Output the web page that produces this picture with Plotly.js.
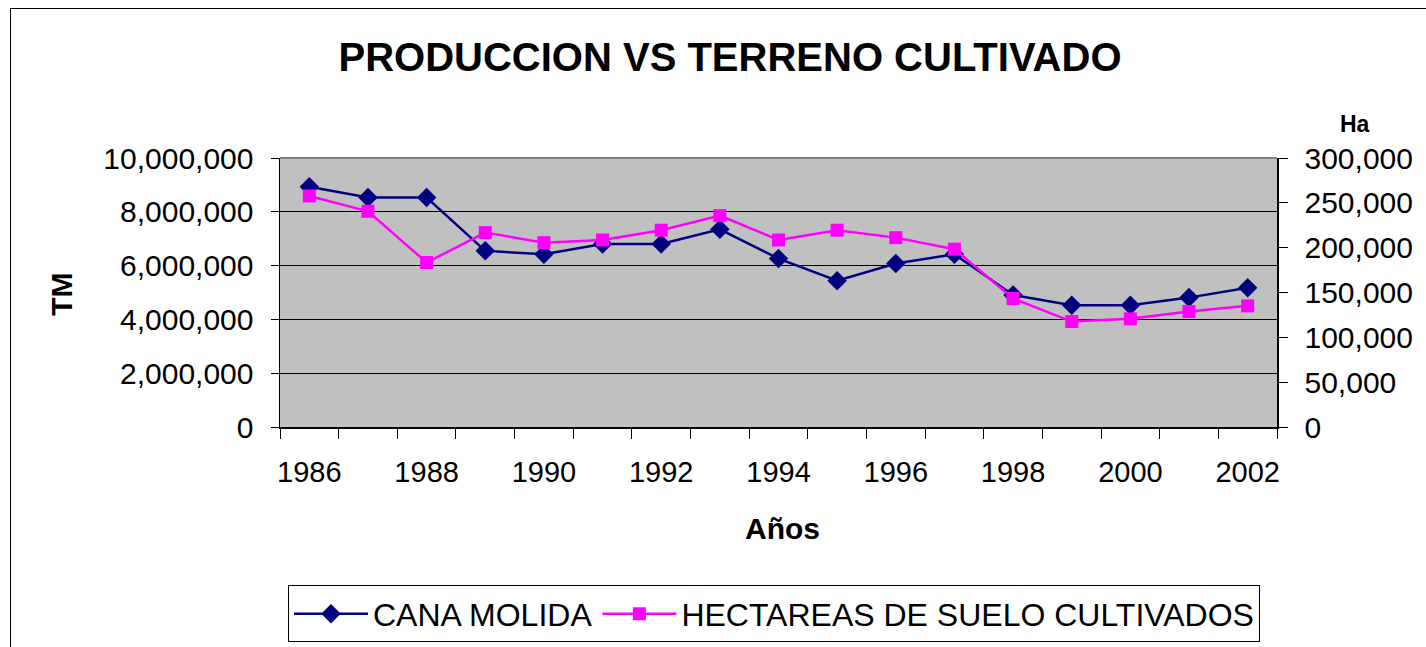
<!DOCTYPE html>
<html>
<head>
<meta charset="utf-8">
<script src="https://cdn.plot.ly/plotly-3.0.1.min.js"></script>
<style>
html, body { margin:0; padding:0; overflow:hidden; background:#fff; width:1426px; height:647px; }
#frame { position:absolute; left:10px; top:8px; width:2000px; height:2000px; border-left:1px solid #000; border-top:1px solid #000; }
#chart { position:absolute; left:0; top:0; width:1426px; height:647px; }
</style>
</head>
<body>
<div id="frame"></div>
<div id="chart"></div>
<script>
// Data
var years = [1986,1987,1988,1989,1990,1991,1992,1993,1994,1995,1996,1997,1998,1999,2000,2001,2002];
var canaMolida = [8930000,8530000,8530000,6550000,6420000,6800000,6800000,7350000,6260000,5440000,6080000,6420000,4910000,4530000,4530000,4810000,5180000];
var hectareas = [257700,240600,183400,216800,205600,208600,219500,235700,208600,219500,211200,198300,143300,117600,120600,128800,135100];
var xTickVals = [1986,1988,1990,1992,1994,1996,1998,2000,2002];
var xTickText = ['1986','1988','1990','1992','1994','1996','1998','2000','2002'];
var seriesNames = ['CANA MOLIDA','HECTAREAS DE SUELO CULTIVADOS'];

var FONT = 'Liberation Sans, Arial, sans-serif';

var traces = [
  {
    x: years, y: canaMolida, name: seriesNames[0], type: 'scatter', mode: 'lines+markers',
    line: {color:'#000080', width:2.5},
    marker: {symbol:'diamond', size:15, color:'#000080'},
    yaxis: 'y'
  },
  {
    x: years, y: hectareas, name: seriesNames[1], type: 'scatter', mode: 'lines+markers',
    line: {color:'#FF00FF', width:2.5},
    marker: {symbol:'square', size:13, color:'#FF00FF'},
    yaxis: 'y2'
  }
];

function px2x(px){ return (px-280)/997; }
function px2y(py){ return (427.3-py)/269.3; }

var layout = {
  width:1426, height:647,
  paper_bgcolor:'rgba(0,0,0,0)',
  plot_bgcolor:'#C0C0C0',
  margin:{l:280, r:149, t:158, b:219.7, autoexpand:false},
  showlegend:true,
  font:{family:FONT, color:'#000'},
  title:{
    text:'<b>PRODUCCION VS TERRENO CULTIVADO</b>',
    font:{family:FONT, size:40, color:'#000'},
    xref:'container', yref:'container', x:730/1426, xanchor:'center', y:1-57/647, yanchor:'middle'
  },
  xaxis:{
    range:[1985.5,2002.5], autorange:false, fixedrange:true,
    tickmode:'array', tickvals:xTickVals, ticktext:xTickText,
    ticks:'', showgrid:false, zeroline:false,
    showline:true, linecolor:'#000', linewidth:1.5,
    tickfont:{family:FONT, size:29, color:'#000'},
    ticklabelstandoff:19,
    minor:{tick0:1985.5, dtick:1, ticks:'outside', ticklen:10, tickcolor:'#000', tickwidth:1, showgrid:false}
  },
  yaxis:{
    range:[0,10000000], autorange:false, fixedrange:true,
    tickmode:'linear', tick0:0, dtick:2000000, tickformat:',d',
    ticks:'outside', ticklen:8, tickcolor:'#000', tickwidth:1,
    showgrid:true, gridcolor:'#000', gridwidth:1, zeroline:false,
    showline:true, linecolor:'#000', linewidth:1.5,
    tickfont:{family:FONT, size:30, color:'#000'},
    ticklabelstandoff:11
  },
  yaxis2:{
    range:[0,300000], autorange:false, fixedrange:true, overlaying:'y', side:'right',
    tickmode:'linear', tick0:0, dtick:50000, tickformat:',d',
    ticks:'outside', ticklen:9, tickcolor:'#000', tickwidth:1,
    showgrid:false, zeroline:false,
    showline:true, linecolor:'#000', linewidth:1.5,
    tickfont:{family:FONT, size:30, color:'#000'},
    ticklabelstandoff:11
  },
  legend:{
    orientation:'h', x:px2x(774), xanchor:'center', y:px2y(614.5), yanchor:'middle',
    xref:'paper', yref:'paper',
    bgcolor:'#fff', bordercolor:'#000', borderwidth:1,
    font:{family:FONT, size:32, color:'#000'},
    itemwidth:74, tracegroupgap:0
  },
  shapes:[
    {type:'line', xref:'paper', yref:'paper', x0:0, x1:1, y0:1, y1:1, line:{color:'#808080', width:2}, layer:'above'}
  ],
  annotations:[
    {text:'<b>TM</b>', xref:'paper', yref:'paper', x:px2x(62), y:px2y(295), textangle:-90,
     showarrow:false, font:{family:FONT, size:30, color:'#000'}, xanchor:'center', yanchor:'middle'},
    {text:'<b>Ha</b>', xref:'paper', yref:'paper', x:px2x(1355), y:px2y(124),
     showarrow:false, font:{family:FONT, size:23, color:'#000'}, xanchor:'center', yanchor:'middle'},
    {text:'<b>Años</b>', xref:'paper', yref:'paper', x:px2x(782), y:px2y(529),
     showarrow:false, font:{family:FONT, size:30, color:'#000'}, xanchor:'center', yanchor:'middle'}
  ]
};

Plotly.newPlot('chart', traces, layout, {displayModeBar:false, staticPlot:true});
</script>
</body>
</html>
